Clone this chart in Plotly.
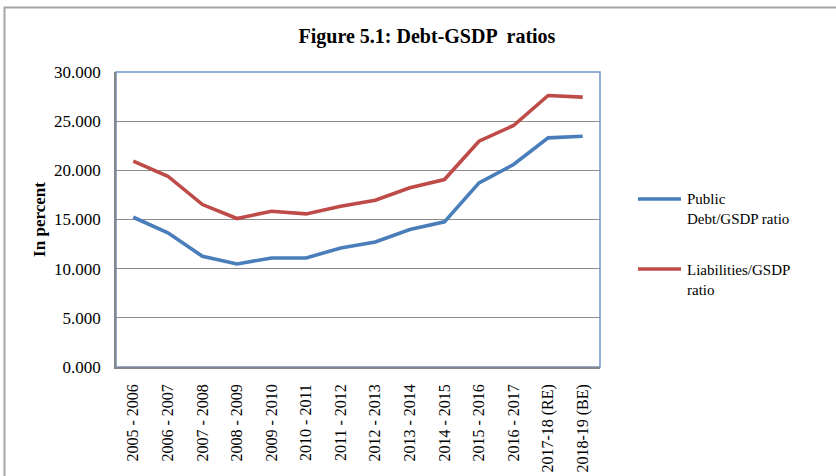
import plotly.graph_objects as go

# Financial years on the category axis
years = ["2005 - 2006", "2006 - 2007", "2007 - 2008", "2008 - 2009", "2009 - 2010",
         "2010 - 2011", "2011 - 2012", "2012 - 2013", "2013 - 2014", "2014 - 2015",
         "2015 - 2016", "2016 - 2017", "2017-18 (RE)", "2018-19 (BE)"]

# Ratios in percent of GSDP
public_debt = [15.23, 13.64, 11.26, 10.48, 11.09, 11.09, 12.11, 12.72, 13.98, 14.76,
               18.72, 20.59, 23.30, 23.47]
liabilities = [20.93, 19.40, 16.52, 15.10, 15.84, 15.57, 16.35, 16.96, 18.22, 19.06,
               22.96, 24.56, 27.61, 27.44]

series_names = ["Public<br>Debt/GSDP ratio", "Liabilities/GSDP<br>ratio"]
series_colors = ["#4a7ebb", "#be4b48"]

y_ticks = [0, 5, 10, 15, 20, 25, 30]

SERIF = "Liberation Serif, Times New Roman, serif"

fig = go.Figure()
for vals, name, color in zip([public_debt, liabilities], series_names, series_colors):
    fig.add_trace(go.Scatter(
        x=years, y=vals, mode="lines", name=name,
        line=dict(color=color, width=3.6),
        showlegend=False,
    ))

W, H = 836, 476
ML, MR, MT, MB = 116, 236, 72, 109
PW, PH = W - ML - MR, H - MT - MB


def px_x(p):
    return (p - ML) / PW


def px_y(p):
    return (H - MB - p) / PH


shapes = [
    # outer chart frame
    dict(type="rect", xref="paper", yref="paper",
         x0=px_x(4.5), x1=px_x(900), y0=px_y(560), y1=px_y(7.5),
         line=dict(color="#a6a6a6", width=2), layer="below"),
    # plot area border
    dict(type="rect", xref="paper", yref="paper", x0=0, x1=1, y0=0, y1=1,
         line=dict(color="#6f93c9", width=1.5), layer="between"),
]

annotations = []
legend_line_y = [199, 269]
legend_text_y = [208.5, 279.5]
for name, color, ly, ty in zip(series_names, series_colors, legend_line_y, legend_text_y):
    shapes.append(dict(type="line", xref="paper", yref="paper",
                       x0=px_x(638), x1=px_x(681), y0=px_y(ly), y1=px_y(ly),
                       line=dict(color=color, width=3.6)))
    annotations.append(dict(xref="paper", yref="paper", x=px_x(685), y=px_y(ty),
                            xanchor="left", yanchor="middle", align="left",
                            text=name, showarrow=False,
                            font=dict(family=SERIF, size=15, color="#000000")))

fig.update_layout(
    width=W, height=H,
    margin=dict(l=ML, r=MR, t=MT, b=MB, autoexpand=False),
    paper_bgcolor="white", plot_bgcolor="white",
    title=dict(text="<b>Figure 5.1: Debt-GSDP  ratios</b>",
               x=px_x(427), xref="paper", xanchor="center",
               y=1 - 36 / H, yanchor="middle",
               font=dict(family=SERIF, size=20, color="#000000")),
    xaxis=dict(
        type="category", range=[-0.5, len(years) - 0.5],
        tickangle=-90, showgrid=False, ticks="", automargin=False,
        showline=True, linecolor="#868686", linewidth=1.5,
        tickfont=dict(family=SERIF, size=16, color="#000000"),
        ticklabelstandoff=9,
    ),
    yaxis=dict(
        range=[0, 30], tickvals=y_ticks, tickformat=".3f",
        showgrid=True, gridcolor="#8c8c8c", gridwidth=1.3,
        zeroline=False, ticks="", automargin=False,
        showline=True, linecolor="#868686", linewidth=1.5,
        tickfont=dict(family=SERIF, size=17, color="#000000"),
        ticklabelstandoff=10,
        title=dict(text="<b>In percent</b>", standoff=4,
                   font=dict(family=SERIF, size=17, color="#000000")),
    ),
    shapes=shapes,
    annotations=annotations,
)

fig.write_html("out.html")
